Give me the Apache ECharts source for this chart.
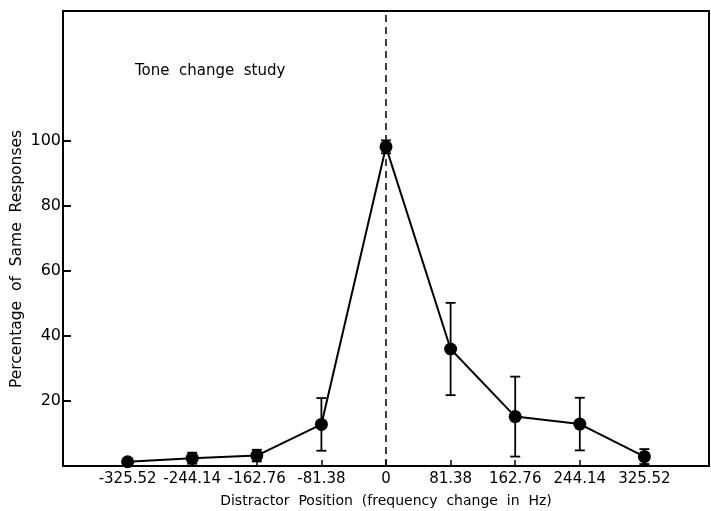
<!DOCTYPE html>
<html>
<head>
<meta charset="utf-8">
<script src="https://cdn.jsdelivr.net/npm/echarts@6/dist/echarts.min.js"></script>
<style>
  html, body { margin: 0; padding: 0; background: #fff; }
  #chart { width: 711px; height: 511px; }
</style>
</head>
<body>
<div id="chart"></div>
<script>
// Distractor positions (frequency change in Hz)
const positions = [-325.52, -244.14, -162.76, -81.38, 0, 81.38, 162.76, 244.14, 325.52];
// Mean percentage of "same" responses at each position
const percentSame = [1.3, 2.4, 3.2, 12.8, 98.2, 36.0, 15.2, 12.9, 2.9];
// Half-length of each error bar (percentage points)
const errorHalf = [0.8, 1.7, 1.8, 8.1, 2.0, 14.2, 12.3, 8.1, 2.3];
// Tick values on each axis
const xTicks = [-325.52, -244.14, -162.76, -81.38, 0, 81.38, 162.76, 244.14, 325.52];
const yTicks = [20, 40, 60, 80, 100];

const FONT = 'DejaVu Sans';
const step = 81.38;

const chart = echarts.init(document.getElementById('chart'));

const points = positions.map((x, i) => [x, percentSame[i]]);
const bars = positions.map((x, i) => [x, percentSame[i] - errorHalf[i], percentSame[i] + errorHalf[i]]);

chart.setOption({
  animation: false,
  backgroundColor: '#fff',
  grid: {
    left: 63, right: 2, top: 11, bottom: 45,
    outerBoundsMode: 'none',
    show: true, borderColor: '#000', borderWidth: 2, backgroundColor: 'transparent'
  },
  xAxis: {
    type: 'value',
    min: -5 * step, max: 5 * step, interval: step,
    splitLine: { show: false },
    axisLine: { show: true, onZero: false, lineStyle: { color: '#000', width: 2 } },
    axisTick: { show: true, inside: true, length: 6, lineStyle: { color: '#000', width: 1.5 }, customValues: xTicks },
    axisLabel: {
      customValues: xTicks,
      color: '#000', fontFamily: FONT, fontSize: 15, margin: 6,
      formatter: v => (Math.abs(v) < 1e-6 ? '0' : v.toFixed(2))
    },
    name: 'Distractor  Position  (frequency  change  in  Hz)',
    nameLocation: 'middle', nameGap: 28,
    nameTextStyle: { color: '#000', fontFamily: FONT, fontSize: 14 }
  },
  yAxis: {
    type: 'value',
    min: 0, max: 140, interval: 20,
    splitLine: { show: false },
    axisLine: { show: true, onZero: false, lineStyle: { color: '#000', width: 2 } },
    axisTick: { show: true, inside: true, length: 8, lineStyle: { color: '#000', width: 2 }, customValues: yTicks },
    axisLabel: { customValues: yTicks, color: '#000', fontFamily: FONT, fontSize: 16, margin: 2 }
  },
  graphic: [
    {
      type: 'text', left: 135, top: 64,
      style: { text: 'Tone  change  study', fill: '#000', font: '15px "DejaVu Sans"' }
    },
    {
      type: 'text', x: 17, y: 259, rotation: Math.PI / 2,
      style: {
        text: 'Percentage  of  Same  Responses', fill: '#000',
        font: '15.5px "DejaVu Sans"', align: 'center', verticalAlign: 'middle'
      }
    }
  ],
  series: [
    {
      type: 'custom',
      z: 3,
      data: bars,
      renderItem: (params, api) => {
        const top = api.coord([api.value(0), api.value(2)]);
        const bot = api.coord([api.value(0), api.value(1)]);
        const w = 5;
        const st = { stroke: '#000', lineWidth: 1.8 };
        return {
          type: 'group',
          children: [
            { type: 'line', shape: { x1: top[0], y1: top[1], x2: bot[0], y2: bot[1] }, style: st },
            { type: 'line', shape: { x1: top[0] - w, y1: top[1], x2: top[0] + w, y2: top[1] }, style: st },
            { type: 'line', shape: { x1: bot[0] - w, y1: bot[1], x2: bot[0] + w, y2: bot[1] }, style: st }
          ]
        };
      }
    },
    {
      type: 'line',
      z: 4,
      data: points,
      symbol: 'circle', symbolSize: 13,
      itemStyle: { color: '#000' },
      lineStyle: { color: '#000', width: 2 },
      markLine: {
        silent: true, symbol: 'none', label: { show: false },
        lineStyle: { color: '#000', type: [7, 5], width: 1.5 },
        data: [{ xAxis: 0 }]
      }
    }
  ]
});
</script>
</body>
</html>
